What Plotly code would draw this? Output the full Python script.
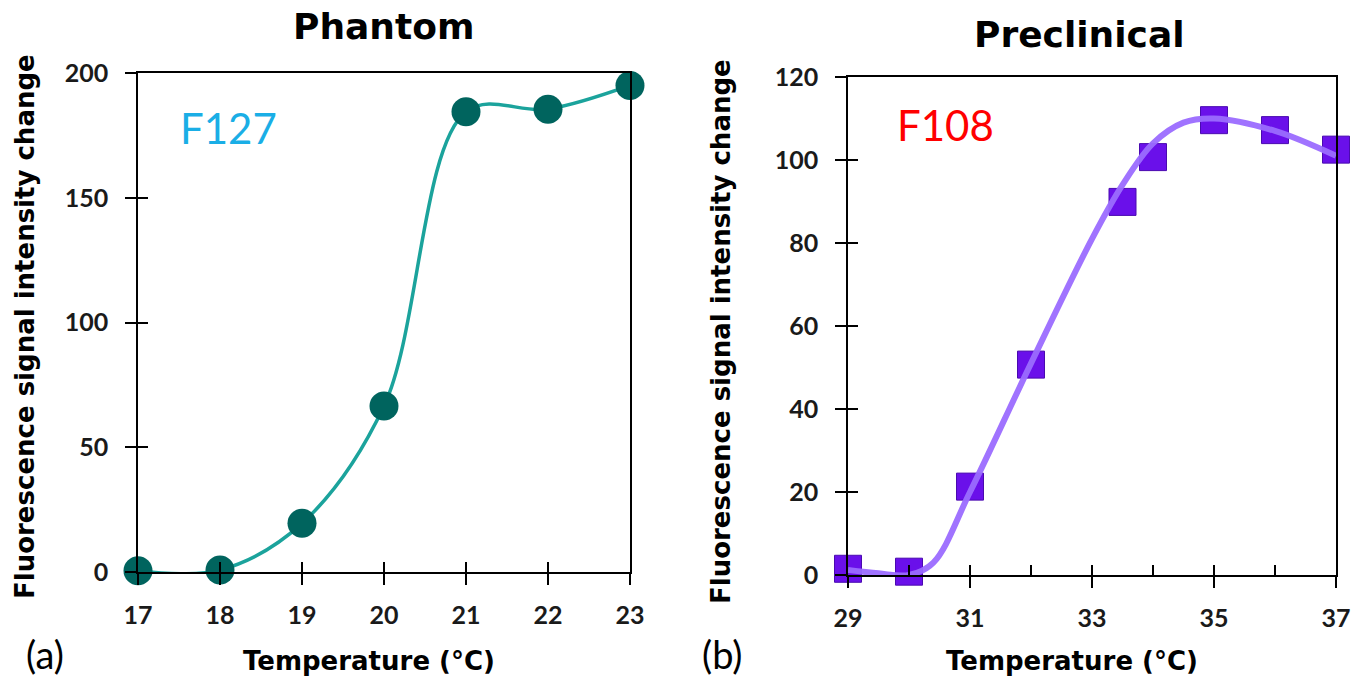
import plotly.graph_objects as go

W, H = 1368, 683

# ---- data ----
phantom_temp = [17, 18, 19, 20, 21, 22, 23]
phantom_signal = [0.5, 0.8, 19.5, 66.5, 184.5, 185.5, 195]

preclin_temp = [29, 30, 31, 32, 33.5, 34, 35, 36, 37]
preclin_signal = [1.5, 0.8, 21.3, 50.7, 89.9, 100.7, 109.6, 107.2, 102.5]

fit_temp = [29, 29.5, 30, 30.4, 31, 32, 33, 33.5, 34, 34.5, 35, 36, 37]
fit_signal = [1.2, 0.4, 0.0, 3.0, 20.0, 51.0, 81.0, 94.0, 104.0, 109.0, 110.0, 107.0, 101.0]

phantom_xticks = [17, 18, 19, 20, 21, 22, 23]
phantom_yticks = [0, 50, 100, 150, 200]
preclin_xticks = [29, 31, 33, 35, 37]
preclin_yticks = [0, 20, 40, 60, 80, 100, 120]
preclin_xticks_all = [29, 30, 31, 32, 33, 34, 35, 36, 37]

TEAL_LINE = "#1BA39C"
TEAL_MARK = "#00645E"
PURPLE_LINE = "#9B6CFF"
PURPLE_MARK = "#6A10EA"


def px(x):
    return x / W


def py(y):
    return 1 - y / H


fig = go.Figure()

fig.add_trace(go.Scatter(
    x=phantom_temp, y=phantom_signal, mode="lines+markers",
    line=dict(shape="spline", smoothing=1.0, color=TEAL_LINE, width=3.5),
    marker=dict(symbol="circle", size=29, color=TEAL_MARK, line=dict(width=0)),
    xaxis="x", yaxis="y", cliponaxis=False, showlegend=False))

fig.add_trace(go.Scatter(
    x=preclin_temp, y=preclin_signal, mode="markers",
    marker=dict(symbol="square", size=27, color=PURPLE_MARK,
                line=dict(width=1, color="#4A0AB0")),
    xaxis="x2", yaxis="y2", cliponaxis=False, showlegend=False))

fig.add_trace(go.Scatter(
    x=fit_temp, y=fit_signal, mode="lines",
    line=dict(shape="spline", smoothing=1.0, color=PURPLE_LINE, width=6),
    opacity=0.95,
    xaxis="x2", yaxis="y2", cliponaxis=False, showlegend=False))

# dummy traces for overlay tick axes
fig.add_trace(go.Scatter(x=[], y=[], xaxis="x3", yaxis="y3", showlegend=False))
fig.add_trace(go.Scatter(x=[], y=[], xaxis="x4", yaxis="y4", showlegend=False))

tickfont = dict(family="Lato", size=25, color="#1a1a1a", weight="bold")
common = dict(showgrid=False, zeroline=False, linecolor="black", linewidth=1.5,
              tickcolor="black", tickwidth=1.5, ticklen=11, ticks="outside",
              tickfont=tickfont, fixedrange=True, automargin=False)
overlay = dict(showgrid=False, zeroline=False, showline=False, ticks="inside",
               tickcolor="black", tickwidth=1.5, ticklen=10, showticklabels=False,
               automargin=False)

xd1 = [px(138), px(630)]
yd1 = [py(572), py(73)]
xd2 = [px(848), px(1336)]
yd2 = [py(575), py(77)]

fig.update_layout(
    template="none",
    width=W, height=H,
    margin=dict(l=0, r=0, t=0, b=0, autoexpand=False),
    paper_bgcolor="white", plot_bgcolor="white",
    showlegend=False,
    xaxis=dict(domain=xd1, range=[17, 23], tickvals=phantom_xticks, anchor="y",
               showline=True, mirror=True, ticklabelstandoff=9, **common),
    yaxis=dict(domain=yd1, range=[0, 200], tickvals=phantom_yticks, anchor="x",
               showline=True, mirror=True, ticklabelstandoff=12, **common),
    xaxis2=dict(domain=xd2, range=[29, 37], tickvals=preclin_xticks, anchor="y2",
                showline=True, mirror=True, ticklabelstandoff=9, **common),
    yaxis2=dict(domain=yd2, range=[0, 120], tickvals=preclin_yticks, anchor="x2",
                showline=True, mirror=True, ticklabelstandoff=12, **common),
    xaxis3=dict(overlaying="x", anchor="y", range=[17, 23], tickvals=phantom_xticks, **overlay),
    yaxis3=dict(overlaying="y", anchor="x", range=[0, 200], tickvals=phantom_yticks, **overlay),
    xaxis4=dict(overlaying="x2", anchor="y2", range=[29, 37],
                tickvals=preclin_xticks_all, **overlay),
    yaxis4=dict(overlaying="y2", anchor="x2", range=[0, 120], tickvals=preclin_yticks, **overlay),
)

title_font = dict(family="DejaVu Sans", size=36, color="black")
axis_title_font = dict(family="DejaVu Sans", size=26, color="black")

ann = [
    dict(text="<b>Phantom</b>", x=px(383), y=py(27), font=title_font),
    dict(text="<b>Preclinical</b>", x=px(1079), y=py(35), font=title_font),
    dict(text="<b>Fluorescence signal intensity change</b>", x=px(25), y=py(327),
         textangle=-90, font=axis_title_font),
    dict(text="<b>Fluorescence signal intensity change</b>", x=px(721), y=py(332),
         textangle=-90, font=axis_title_font),
    dict(text="<b>Temperature (°C)</b>", x=px(369), y=py(661), font=axis_title_font),
    dict(text="<b>Temperature (°C)</b>", x=px(1072), y=py(661), font=axis_title_font),
    dict(text="F127", x=px(228), y=py(128), font=dict(family="Lato", size=42, color="#1AAEE6")),
    dict(text="F108", x=px(945), y=py(125), font=dict(family="Lato", size=42, color="#FF0000")),
    dict(text="(a)", x=px(45), y=py(654), font=dict(family="Lato", size=38, color="black")),
    dict(text="(b)", x=px(722), y=py(654), font=dict(family="Lato", size=38, color="black")),
]
for a in ann:
    fig.add_annotation(xref="paper", yref="paper", xanchor="center", yanchor="middle",
                       showarrow=False, **a)

fig.write_html("out.html")
